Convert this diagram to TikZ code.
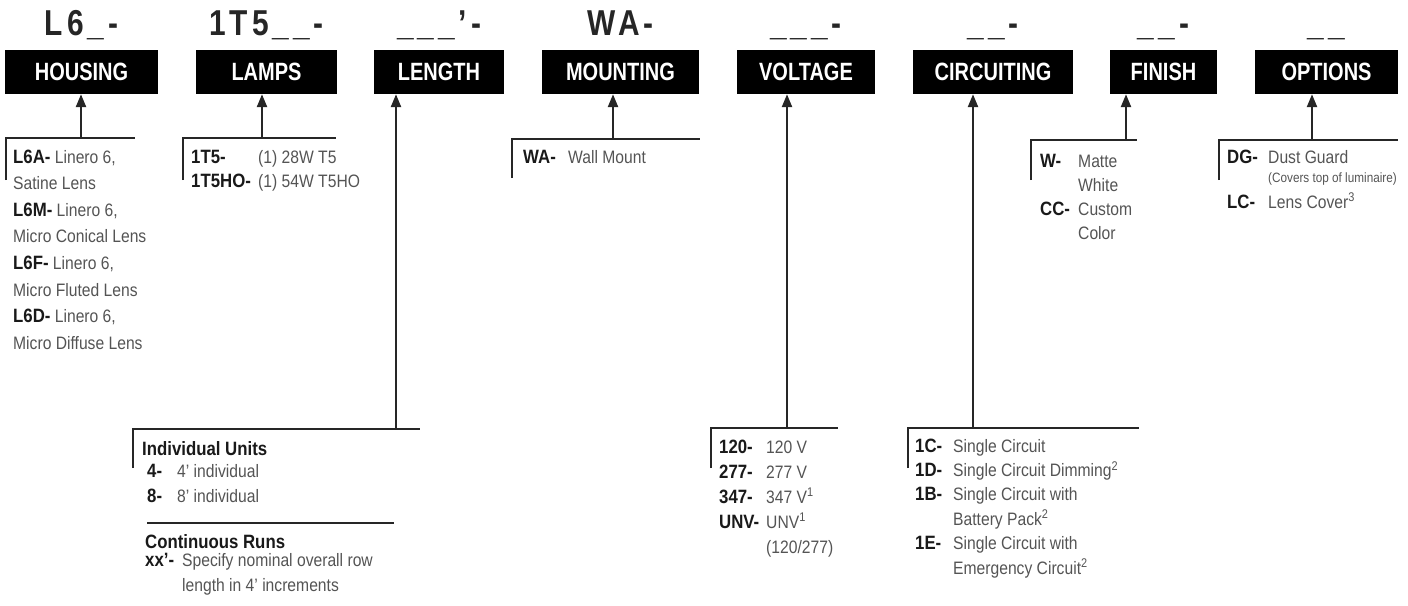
\documentclass[tikz,border=0pt]{standalone}
\usepackage{fontspec}
\setmainfont{Liberation Sans}[FakeStretch=0.87]
\newfontfamily\hdfont{Liberation Sans}[FakeStretch=0.8]
\newfontfamily\codefont{Liberation Sans}[FakeStretch=0.83, LetterSpace=11]
\usetikzlibrary{arrows.meta, positioning}
\definecolor{txtgrey}{gray}{0.33}
\tikzstyle{header} = [rectangle, fill=black, text=white, minimum height=44pt, inner sep=0pt, font=\hdfont\bfseries\fontsize{25}{25}\selectfont]
\tikzstyle{code} = [inner sep=0pt, text=black!85, font=\codefont\bfseries\fontsize{36}{36}\selectfont]
\tikzstyle{list} = [anchor=base west, inner sep=0pt, text=txtgrey, font=\fontsize{18}{25}\selectfont]
\tikzstyle{arrow} = [line width=2.4pt, draw=black!85, -{Triangle[length=13pt, width=10pt]}]
\tikzstyle{bracket} = [line width=2.2pt, draw=black!85]
\newcommand{\cd}[1]{\textcolor{black!90}{\bfseries\fontsize{19.3}{25}\selectfont #1}}
\begin{document}
\begin{tikzpicture}[x=1pt, y=1pt]
		\useasboundingbox (0,0) rectangle (1408,-605);
		\node (housing) [header, minimum width=153pt] at (81.5,-72) {HOUSING};
		\node (lamps) [header, minimum width=141pt] at (266.5,-72) {LAMPS};
		\node (length) [header, minimum width=130pt] at (439,-72) {LENGTH};
		\node (mounting) [header, minimum width=157pt] at (620.5,-72) {MOUNTING};
		\node (voltage) [header, minimum width=138pt] at (806,-72) {VOLTAGE};
		\node (circuiting) [header, minimum width=160pt] at (993,-72) {CIRCUITING};
		\node (finish) [header, minimum width=107pt] at (1163.5,-72) {FINISH};
		\node (options) [header, minimum width=143pt] at (1326.5,-72) {OPTIONS};
		\node (chousing) [code, above=14pt of housing.north, anchor=base] {L6\_-};
		\node (clamps) [code, above=14pt of lamps.north, anchor=base] {1T5\_\_-};
		\node (clength) [code, above=14pt of length.north, anchor=base] {\_\_\_’-};
		\node (cmounting) [code, above=14pt of mounting.north, anchor=base] {WA-};
		\node (cvoltage) [code, above=14pt of voltage.north, anchor=base] {\_\_\_-};
		\node (ccircuiting) [code, above=14pt of circuiting.north, anchor=base] {\_\_-};
		\node (cfinish) [code, above=14pt of finish.north, anchor=base] {\_\_-};
		\node (coptions) [code, above=14pt of options.north, anchor=base] {\_\_};
		\node (lhousing) [list, font=\fontsize{18}{26.6}\selectfont] at (13,-163) {\begin{tabular}[t]{@{}l@{}}
			\cd{L6A-} Linero 6,\\ Satine Lens\\
			\cd{L6M-} Linero 6,\\ Micro Conical Lens\\
			\cd{L6F-} Linero 6,\\ Micro Fluted Lens\\
			\cd{L6D-} Linero 6,\\ Micro Diffuse Lens\end{tabular}};
		\node (llamps) [list, font=\fontsize{18}{24.5}\selectfont] at (191,-163) {\begin{tabular}[t]{@{}p{67pt}@{}l@{}}
			\cd{1T5-} & (1) 28W T5\\
			\cd{1T5HO-} & (1) 54W T5HO\end{tabular}};
		\node (lmounting) [list] at (523,-163) {\begin{tabular}[t]{@{}p{45pt}@{}l@{}}
			\cd{WA-} & Wall Mount\end{tabular}};
		\node (lindiv) [list, font=\fontsize{19.5}{25}\selectfont] at (142,-455) {\cd{Individual Units}};
		\node (lunits) [list] at (147,-477) {\begin{tabular}[t]{@{}p{30pt}@{}l@{}}
			\cd{4-} & 4' individual\\
			\cd{8-} & 8' individual\end{tabular}};
		\node (lcont) [list, font=\fontsize{19.5}{25}\selectfont] at (145,-548) {\cd{Continuous Runs}};
		\node (lruns) [list] at (145,-566) {\begin{tabular}[t]{@{}p{37pt}@{}l@{}}
			\cd{xx'-} & Specify nominal overall row\\
			& length in 4' increments\end{tabular}};
		\node (lvoltage) [list] at (719,-453) {\begin{tabular}[t]{@{}p{47pt}@{}l@{}}
			\cd{120-} & 120 V\\
			\cd{277-} & 277 V\\
			\cd{347-} & 347 V\textsuperscript{1}\\
			\cd{UNV-} & UNV\textsuperscript{1}\\
			& (120/277)\end{tabular}};
		\node (lcircuiting) [list, font=\fontsize{18}{24.4}\selectfont] at (915,-452) {\begin{tabular}[t]{@{}p{38pt}@{}l@{}}
			\cd{1C-} & Single Circuit\\
			\cd{1D-} & Single Circuit Dimming\textsuperscript{2}\\
			\cd{1B-} & Single Circuit with\\
			& Battery Pack\textsuperscript{2}\\
			\cd{1E-} & Single Circuit with\\
			& Emergency Circuit\textsuperscript{2}\end{tabular}};
		\node (lfinish) [list, font=\fontsize{18}{24.3}\selectfont] at (1040,-167) {\begin{tabular}[t]{@{}p{38pt}@{}l@{}}
			\cd{W-} & Matte\\
			& White\\
			\cd{CC-} & Custom\\
			& Color\end{tabular}};
		\node (loptions) [list] at (1227,-163) {\begin{tabular}[t]{@{}p{41pt}@{}l@{}}
			\cd{DG-} & Dust Guard\\[-6pt]
			& {\fontsize{13.5}{13.5}\selectfont (Covers top of luminaire)}\\[1pt]
			\cd{LC-} & Lens Cover\textsuperscript{3}\end{tabular}};
		\draw [bracket] (6,-180) |- (135,-138);
		\draw [bracket] (183,-180) |- (336,-138);
		\draw [bracket] (512,-178) |- (700,-139);
		\draw [bracket] (1031,-180) |- (1137,-140);
		\draw [bracket] (1219,-180) |- (1398,-140);
		\draw [bracket] (133,-468) |- (420,-429);
		\draw [bracket] (711,-468) |- (838,-428);
		\draw [bracket] (908,-468) |- (1139,-428);
		\draw [line width=1.2pt, draw=black!85] (147,-523) -- (394,-523);
		\coordinate (shousing) at (81,-138);
		\coordinate (slamps) at (262,-138);
		\coordinate (slength) at (396,-429);
		\coordinate (smounting) at (613,-139);
		\coordinate (svoltage) at (787,-428);
		\coordinate (scircuiting) at (973,-428);
		\coordinate (sfinish) at (1126,-140);
		\coordinate (soptions) at (1312,-140);
		\draw [arrow] (shousing) -- (shousing |- housing.south);
		\draw [arrow] (slamps) -- (slamps |- lamps.south);
		\draw [arrow] (slength) -- (slength |- length.south);
		\draw [arrow] (smounting) -- (smounting |- mounting.south);
		\draw [arrow] (svoltage) -- (svoltage |- voltage.south);
		\draw [arrow] (scircuiting) -- (scircuiting |- circuiting.south);
		\draw [arrow] (sfinish) -- (sfinish |- finish.south);
		\draw [arrow] (soptions) -- (soptions |- options.south);
\end{tikzpicture}
\end{document}
